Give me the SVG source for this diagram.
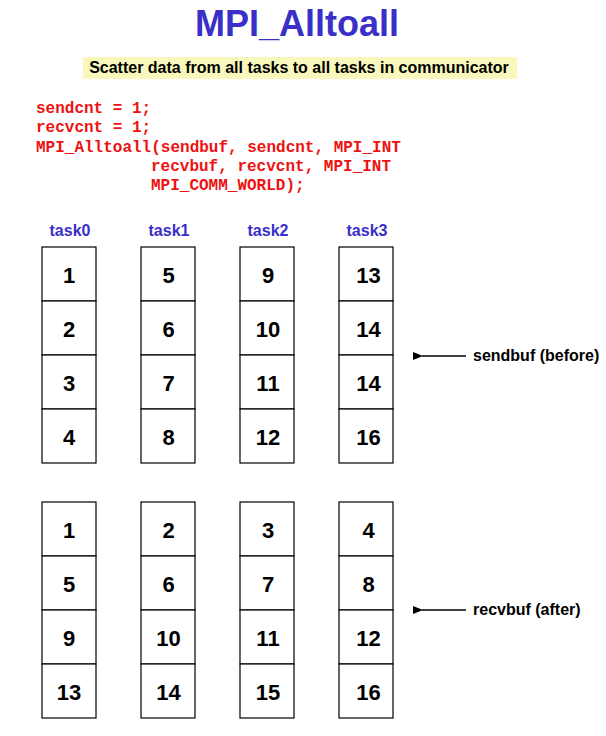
<svg xmlns="http://www.w3.org/2000/svg" width="606" height="736" viewBox="0 0 606 736">
<defs>
<style>
.title{font-family:"Liberation Sans",Arial,sans-serif;font-weight:bold;font-size:36px;fill:#3a2fc8}
.sub{font-family:"Liberation Sans",Arial,sans-serif;font-weight:bold;font-size:16px;fill:#000}
.code{font-family:"Liberation Mono","Courier New",monospace;font-weight:bold;font-size:16px;fill:#ee1111}
.task{font-family:"Liberation Sans",Arial,sans-serif;font-weight:bold;font-size:16px;fill:#3a2fc8}
.cell{fill:#fff;stroke:#000;stroke-width:1.2}
.num{font-family:"Liberation Sans",Arial,sans-serif;font-weight:bold;font-size:22px;fill:#000;text-anchor:middle}
.lbl{font-family:"Liberation Sans",Arial,sans-serif;font-weight:bold;font-size:16px;fill:#000}
.conn{stroke:#000;stroke-width:1.5;fill:none}
</style>
<marker id="ah" viewBox="0 0 10 10" refX="1" refY="5" markerWidth="10" markerHeight="8" markerUnits="userSpaceOnUse" orient="auto-start-reverse" preserveAspectRatio="none">
<path d="M0,5 L10,0 L10,10 Z" fill="#000"/>
</marker>
</defs>
<rect width="606" height="736" fill="#fff"/>
<g id="title"><text class="title" x="297" y="36" text-anchor="middle">MPI_Alltoall</text></g>
<g id="subtitle">
<rect x="83" y="57" width="434" height="22" fill="#f8f8bc"/>
<text class="sub" x="299" y="73" text-anchor="middle">Scatter data from all tasks to all tasks in communicator</text>
</g>
<g id="code">
<text class="code" x="36" y="113">sendcnt = 1;</text>
<text class="code" x="36" y="132">recvcnt = 1;</text>
<text class="code" x="36" y="152">MPI_Alltoall(sendbuf, sendcnt, MPI_INT</text>
<text class="code" x="151" y="171">recvbuf, recvcnt, MPI_INT</text>
<text class="code" x="151" y="190">MPI_COMM_WORLD);</text>
</g>
<g id="labels">
<text class="task" x="70" y="236" text-anchor="middle">task0</text>
<text class="task" x="169" y="236" text-anchor="middle">task1</text>
<text class="task" x="268" y="236" text-anchor="middle">task2</text>
<text class="task" x="367" y="236" text-anchor="middle">task3</text>
</g>
<g id="sendbuf">
<g id="send-task0">
<rect class="cell" x="42" y="247" width="54" height="54"/><rect class="cell" x="42" y="301" width="54" height="54"/><rect class="cell" x="42" y="355" width="54" height="54"/><rect class="cell" x="42" y="409" width="54" height="54"/>
<text class="num" x="69" y="283">1</text><text class="num" x="69" y="337">2</text><text class="num" x="69" y="391">3</text><text class="num" x="69" y="445">4</text>
</g>
<g id="send-task1">
<rect class="cell" x="141" y="247" width="54" height="54"/><rect class="cell" x="141" y="301" width="54" height="54"/><rect class="cell" x="141" y="355" width="54" height="54"/><rect class="cell" x="141" y="409" width="54" height="54"/>
<text class="num" x="168.5" y="283">5</text><text class="num" x="168.5" y="337">6</text><text class="num" x="168.5" y="391">7</text><text class="num" x="168.5" y="445">8</text>
</g>
<g id="send-task2">
<rect class="cell" x="240" y="247" width="54" height="54"/><rect class="cell" x="240" y="301" width="54" height="54"/><rect class="cell" x="240" y="355" width="54" height="54"/><rect class="cell" x="240" y="409" width="54" height="54"/>
<text class="num" x="268" y="283">9</text><text class="num" x="268" y="337">10</text><text class="num" x="268" y="391">11</text><text class="num" x="268" y="445">12</text>
</g>
<g id="send-task3">
<rect class="cell" x="339" y="247" width="54" height="54"/><rect class="cell" x="339" y="301" width="54" height="54"/><rect class="cell" x="339" y="355" width="54" height="54"/><rect class="cell" x="339" y="409" width="54" height="54"/>
<text class="num" x="368.5" y="283">13</text><text class="num" x="368.5" y="337">14</text><text class="num" x="368.5" y="391">14</text><text class="num" x="368.5" y="445">16</text>
</g>
</g>
<g id="recvbuf">
<g id="recv-task0">
<rect class="cell" x="42" y="502" width="54" height="54"/><rect class="cell" x="42" y="556" width="54" height="54"/><rect class="cell" x="42" y="610" width="54" height="54"/><rect class="cell" x="42" y="664" width="54" height="54"/>
<text class="num" x="69" y="538">1</text><text class="num" x="69" y="592">5</text><text class="num" x="69" y="646">9</text><text class="num" x="69" y="700">13</text>
</g>
<g id="recv-task1">
<rect class="cell" x="141" y="502" width="54" height="54"/><rect class="cell" x="141" y="556" width="54" height="54"/><rect class="cell" x="141" y="610" width="54" height="54"/><rect class="cell" x="141" y="664" width="54" height="54"/>
<text class="num" x="168.5" y="538">2</text><text class="num" x="168.5" y="592">6</text><text class="num" x="168.5" y="646">10</text><text class="num" x="168.5" y="700">14</text>
</g>
<g id="recv-task2">
<rect class="cell" x="240" y="502" width="54" height="54"/><rect class="cell" x="240" y="556" width="54" height="54"/><rect class="cell" x="240" y="610" width="54" height="54"/><rect class="cell" x="240" y="664" width="54" height="54"/>
<text class="num" x="268" y="538">3</text><text class="num" x="268" y="592">7</text><text class="num" x="268" y="646">11</text><text class="num" x="268" y="700">15</text>
</g>
<g id="recv-task3">
<rect class="cell" x="339" y="502" width="54" height="54"/><rect class="cell" x="339" y="556" width="54" height="54"/><rect class="cell" x="339" y="610" width="54" height="54"/><rect class="cell" x="339" y="664" width="54" height="54"/>
<text class="num" x="368.5" y="538">4</text><text class="num" x="368.5" y="592">8</text><text class="num" x="368.5" y="646">12</text><text class="num" x="368.5" y="700">16</text>
</g>
</g>
<g id="sendbuf-label"><text class="lbl" x="473" y="361">sendbuf (before)</text></g>
<g id="recvbuf-label"><text class="lbl" x="473" y="615">recvbuf (after)</text></g>
<g id="connectors">
<line class="conn" x1="466" y1="356" x2="422" y2="356" marker-end="url(#ah)"/>
<line class="conn" x1="466" y1="610" x2="422" y2="610" marker-end="url(#ah)"/>
</g>
</svg>
